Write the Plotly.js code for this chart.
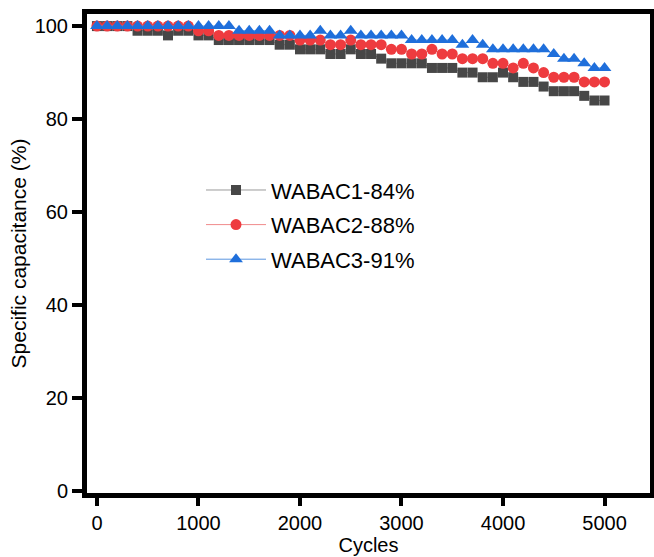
<!DOCTYPE html>
<html>
<head>
<meta charset="utf-8">
<script src="https://cdn.plot.ly/plotly-3.0.1.min.js"></script>
<style>html,body{margin:0;padding:0;background:#fff;}#chart{width:654px;height:557px;}</style>
</head>
<body>
<div id="chart"></div>
<script>
var cycles = [0,100,200,300,400,500,600,700,800,900,
  1000,1100,1200,1300,1400,1500,1600,1700,1800,1900,
  2000,2100,2200,2300,2400,2500,2600,2700,2800,2900,
  3000,3100,3200,3300,3400,3500,3600,3700,3800,3900,
  4000,4100,4200,4300,4400,4500,4600,4700,4800,4900,5000];

var wabac1 = [100,100,100,100,99,99,99,98,99,99,
  98,98,97,97,97,97,97,97,96,96,
  95,95,95,94,94,95,94,94,93,92,
  92,92,92,91,91,91,90,90,89,89,
  90,89,88,88,87,86,86,86,85,84,84];

var wabac2 = [100,100,100,100,100,100,100,100,100,100,
  99,99,98,98,98,98,98,98,98,98,
  97,97,97,96,96,97,96,96,96,95,
  95,94,94,95,94,94,93,93,93,92,
  92,91,92,91,90,89,89,89,88,88,88];

var wabac3 = [100,100,100,100,100,100,100,100,100,100,
  100,100,100,100,99,99,99,99,98,98,
  98,98,99,98,98,99,98,98,98,98,
  98,97,97,97,97,97,96,97,96,95,
  95,95,95,95,95,94,93,93,92,91,91];

var names = ['WABAC1-84%','WABAC2-88%','WABAC3-91%'];
var FONT = 'Liberation Sans, Arial, Helvetica, sans-serif';

var traces = [
  {x: cycles, y: wabac1, name: names[0], mode: 'lines+markers', legendgroup: 'a',
   line: {color: '#9a9a9a', width: 1},
   marker: {symbol: 'square', size: 10, color: '#474747'}},
  {x: cycles, y: wabac2, name: names[1], mode: 'lines+markers', legendgroup: 'b',
   line: {color: '#f08a8c', width: 1},
   marker: {symbol: 'circle', size: 11, color: '#ee3b3f'}},
  {x: cycles, y: wabac3, name: names[2], mode: 'lines+markers', legendgroup: 'c',
   line: {color: '#5b95e0', width: 1},
   marker: {symbol: 'triangle-up', size: 12, color: '#1f6fdb'}}
];

var layout = {
  width: 654, height: 557,
  margin: {l: 87, r: 4, t: 14, b: 64},
  paper_bgcolor: '#fff', plot_bgcolor: '#fff',
  font: {family: FONT, color: '#000', size: 20},
  showlegend: true,
  legend: {x: 0.2025, y: 0.676, xanchor: 'left', yanchor: 'top',
    bgcolor: 'rgba(0,0,0,0)', font: {size: 22, family: FONT},
    tracegroupgap: 3, itemwidth: 60, traceorder: 'grouped'},
  xaxis: {range: [-98, 5448], tickvals: [0,1000,2000,3000,4000,5000],
    showgrid: false, zeroline: false, showline: true, linecolor: '#000', linewidth: 5,
    mirror: true, ticks: 'outside', ticklen: 8, tickwidth: 4, tickcolor: '#000',
    tickfont: {size: 20, family: FONT},
    title: {text: 'Cycles', font: {size: 20, family: FONT}, standoff: 5}},
  yaxis: {range: [-0.4, 102.6], tickvals: [0,20,40,60,80,100],
    showgrid: false, zeroline: false, showline: true, linecolor: '#000', linewidth: 5,
    mirror: true, ticks: 'outside', ticklen: 10, tickwidth: 4, tickcolor: '#000',
    tickfont: {size: 20, family: FONT},
    title: {text: 'Specific capacitance (%)', font: {size: 21, family: FONT}, standoff: 4}}
};

Plotly.newPlot('chart', traces, layout, {displayModeBar: false, staticPlot: true});
</script>
</body>
</html>
